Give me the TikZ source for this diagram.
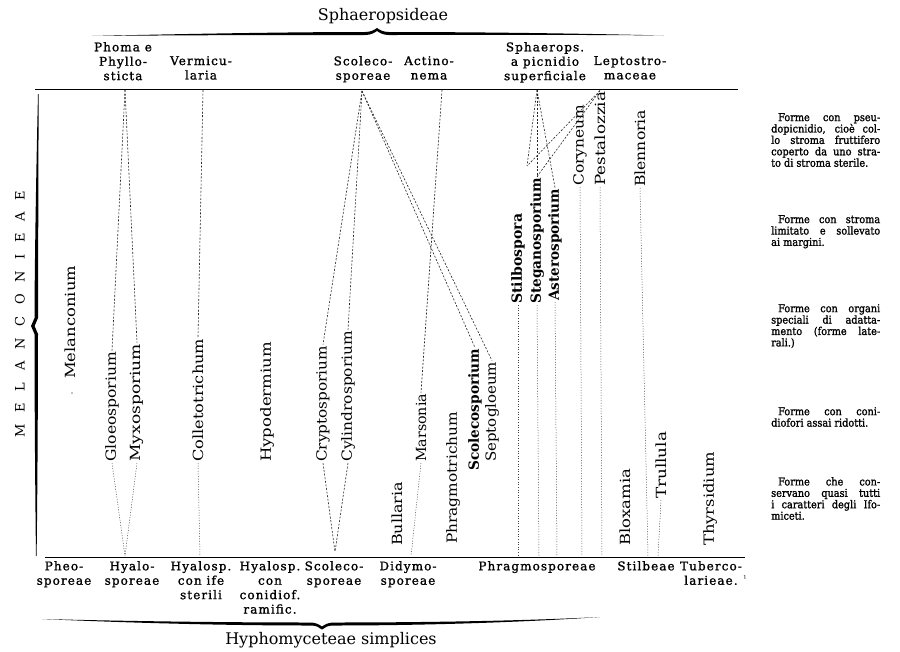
\documentclass[tikz,border=0pt]{standalone}
\usepackage{graphicx}
\usepackage{fontspec}
\setmainfont{DejaVu Serif}
\newfontfamily\labfont[LetterSpace=9,FakeBold=1.2]{DejaVu Serif}
\newfontfamily\notefont[FakeBold=1.4]{DejaVu Serif Condensed}
\newcommand{\vtext}[2]{\resizebox{#1pt}{\height}{#2}}

\tikzset{
  lab/.style={font=\labfont\fontsize{12}{14.4}\selectfont, align=center, inner sep=0pt},
  vlab/.style={font=\fontsize{14}{16}\selectfont, rotate=90, anchor=west, inner sep=1pt},
  dashline/.style={draw=black!85, line width=0.6pt, dash pattern=on 2pt off 1.6pt},
  dotline/.style={draw=black!75, line width=0.5pt, dash pattern=on 1pt off 1.6pt},
  note/.style={font=\notefont\fontsize{10.8}{11.4}\selectfont, text width=109pt, align=justify, inner sep=0pt, anchor=north west},
}

\begin{document}
\begin{tikzpicture}[x=1pt,y=-1pt]
%set diagram at 900 x 651
\path[fill=white] (0,0) rectangle (900,651);

%Shape: Brace top
\fill (92,36) .. controls (200,33.5) and (300,32) .. (365,32) .. controls (371,32) and (374,30) .. (377,28) .. controls (380,30) and (383,32) .. (389,32) .. controls (460,32) and (560,33) .. (664,35.5) .. controls (560,34.5) and (460,35) .. (389,35) .. controls (383,35) and (380,33) .. (377,31) .. controls (374,33) and (371,35) .. (365,35) .. controls (300,35) and (200,35) .. (92,36) -- cycle;
%Shape: Brace bottom
\fill (42,619) .. controls (120,621) and (220,622.5) .. (310,622.5) .. controls (316,622.5) and (319,624.5) .. (322,626.5) .. controls (325,624.5) and (328,622.5) .. (334,622.5) .. controls (420,622.5) and (520,621) .. (600,617) .. controls (520,622.5) and (420,625.5) .. (334,625.5) .. controls (328,625.5) and (325,627) .. (322,629.5) .. controls (319,627) and (316,625.5) .. (310,625.5) .. controls (220,625.5) and (120,622.5) .. (42,619) -- cycle;
%Shape: Brace left
\fill (38,94) .. controls (35.5,200) and (34.5,290) .. (34.5,318) -- (31,326) -- (34.5,334) .. controls (34.5,380) and (35,480) .. (36,556) -- (36.6,556) .. controls (37.6,480) and (38,380) .. (38,334) -- (34.6,326) -- (38,318) .. controls (38,290) and (38.4,200) .. (38.6,94) -- cycle;

%Straight Lines
\draw[line width=1pt] (35,89) -- (738,89);
\draw[line width=1pt] (45,557) -- (745,557);

% Group titles
\node[font=\fontsize{16}{18}\selectfont, anchor=base] (sphaer) at (383,20) {Sphaeropsideae};
\node[font=\fontsize{16}{18}\selectfont, anchor=base] (hypho) at (331,644) {Hyphomyceteae simplices};
\node[rotate=90, font=\fontsize{13}{15}\selectfont, inner sep=0pt] (melan) at (20,314) {\makebox[247pt][s]{M E L A N C O N I E A E}};

% Text Node: upper heads
\node[lab, anchor=north] (phoma) at (123,42) {Phoma e\\Phyllo-\\sticta};
\node[lab, anchor=north] (verm) at (201,56) {Vermicu-\\laria};
\node[lab, anchor=north] (scolT) at (363,56) {Scoleco-\\sporeae};
\node[lab, anchor=north] (actin) at (429,56) {Actino-\\nema};
\node[lab, anchor=north] (sphps) at (545,42) {Sphaerops.\\a picnidio\\superficiale};
\node[lab, anchor=north] (lepto) at (630,56) {Leptostro-\\maceae};

% Text Node: lower heads
\node[lab, anchor=north] (pheo) at (64,561) {Pheo-\\sporeae};
\node[lab, anchor=north] (hyalo) at (132,561) {Hyalo-\\sporeae};
\node[lab, anchor=north] (hyife) at (201,561) {Hyalosp.\\con ife\\sterili};
\node[lab, anchor=north] (hycon) at (270,561) {Hyalosp.\\con\\conidiof.\\ramific.};
\node[lab, anchor=north] (scolB) at (334,561) {Scoleco-\\sporeae};
\node[lab, anchor=north] (didy) at (408,561) {Didymo-\\sporeae};
\node[lab, anchor=north] (phrag) at (537,561) {Phragmosporeae};
\node[lab, anchor=north] (stilb) at (646,561) {Stilbeae};
\node[lab, anchor=north] (tuber) at (711,561) {Tuberco-\\larieae.};
\node[font=\fontsize{8}{9}\selectfont, inner sep=0pt] (fnote) at (745,579) {¹};

% Text Node: genera
\node[vlab] (mel) at (70,380) {\vtext{113}{Melanconium}};
\node[vlab] (glo) at (112,463) {\vtext{110}{Gloeosporium}};
\node[vlab] (myx) at (137,463) {\vtext{118}{Myxosporium}};
\node[vlab] (col) at (198,463) {\vtext{123}{Colletotrichum}};
\node[vlab] (hyp) at (267,463) {\vtext{120}{Hypodermium}};
\node[vlab] (cry) at (323,463) {\vtext{116}{Cryptosporium}};
\node[vlab] (cyl) at (348,463) {\vtext{131}{Cylindrosporium}};
\node[vlab] (mar) at (421,463) {\vtext{68}{Marsonia}};
\node[vlab] (bul) at (397,547) {\vtext{64}{Bullaria}};
\node[vlab] (phr) at (453,545) {\vtext{132}{Phragmotrichum}};
\node[vlab] (sco) at (475,472) {\vtext{122}{\bfseries Scolecosporium}};
\node[vlab] (sep) at (492,463) {\vtext{100}{Septogloeum}};
\node[vlab] (sti) at (518,305) {\vtext{90}{\bfseries Stilbospora}};
\node[vlab] (ste) at (537,305) {\vtext{126}{\bfseries Steganosporium}};
\node[vlab] (ast) at (555,302) {\vtext{112}{\bfseries Asterosporium}};
\node[vlab] (cor) at (580,187) {\vtext{81}{Coryneum}};
\node[vlab] (pes) at (600,187) {\vtext{94}{Pestalozzia}};
\node[vlab] (ble) at (640,188) {\vtext{77}{Blennoria}};
\node[vlab] (blo) at (625,547) {\vtext{77}{Bloxamia}};
\node[vlab] (tru) at (661,500) {\vtext{67}{Trullula}};
\node[vlab] (thy) at (710,547) {\vtext{94}{Thyrsidium}};
\fill (72,393) circle (0.7pt);

% Text Node: notes
\node[note] (n1) at (771,113) {\hspace*{7pt}Forme con pseu-\linebreak dopicnidio, cioè col-\linebreak lo stroma fruttifero\linebreak coperto da uno stra-\linebreak to di stroma sterile.};
\node[note] (n2) at (771,215) {\hspace*{7pt}Forme con stroma\linebreak limitato e sollevato\linebreak ai margini.};
\node[note] (n3) at (771,304) {\hspace*{7pt}Forme con organi\linebreak speciali di adatta-\linebreak mento (forme late-\linebreak rali.)};
\node[note] (n4) at (771,407) {\hspace*{7pt}Forme con coni-\linebreak diofori assai ridotti.};
\node[note] (n5) at (771,477) {\hspace*{7pt}Forme che con-\linebreak servano quasi tutti\linebreak i caratteri degli Ifo-\linebreak miceti.};

% connector ends
\coordinate (phomaTip) at (125,90);
\coordinate (vermTip) at (203,90);
\coordinate (scolTip) at (362,91);
\coordinate (actTip) at (442,90);
\coordinate (sphTip) at (537,90);
\coordinate (vee) at (527,166);
\coordinate (hyaloB) at (125,556);
\coordinate (collB) at (200,556);
\coordinate (scoB) at (335,552);
\coordinate (didyB) at (411,556);

%Dashed Lines
\draw[dashline] (phomaTip) -- (glo.east);
\draw[dashline] (phomaTip) -- (myx.east);
\draw[dotline] (glo.west) -- (hyaloB);
\draw[dotline] (myx.west) -- (hyaloB);
\draw[dashline] (vermTip) -- (col.east);
\draw[dotline] (col.west) -- (collB);
\foreach \n in {cry,cyl,sco,sep}
  \draw[dashline] (scolTip) -- (\n.east);
\draw[dashline] (cry.west) -- (scoB);
\draw[dashline] (cyl.west) -- (scoB);
\draw[dashline] (actTip) -- (mar.east);
\draw[dotline] (mar.west) -- (didyB);
\draw[dashline] (sphTip) -- (vee);
\draw[dashline] (sphTip) -- (ste.east);
\draw[dashline] (sphTip) -- (ast.east);
\draw[dashline] (pes.east) -- (vee);
\draw[dashline] (pes.east) -- (ste.east);
\foreach \n/\x in {sti/518,ste/539,ast/557,cor/582,pes/602,ble/648,tru/658}
  \draw[dotline] (\n.west) -- (\x,556);

\end{tikzpicture}
\end{document}
